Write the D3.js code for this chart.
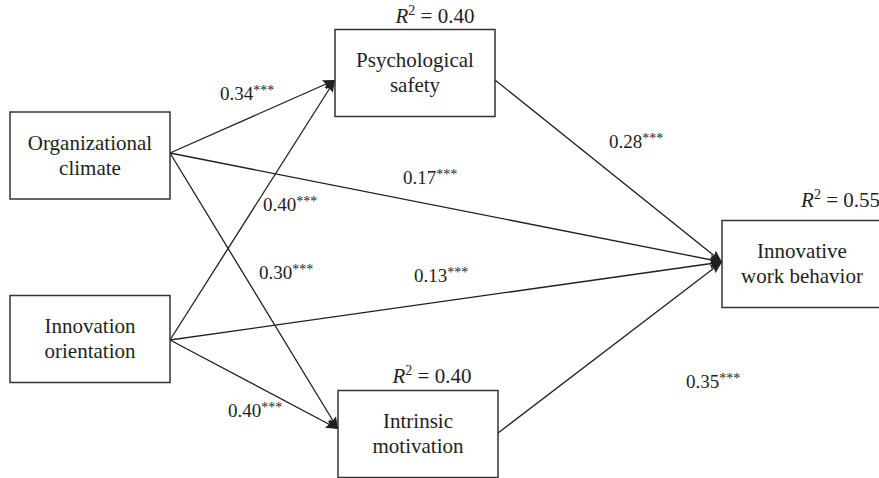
<!DOCTYPE html>
<html><head><meta charset="utf-8"><script src="https://cdn.jsdelivr.net/npm/d3@7"></script></head>
<body style="margin:0">
<svg id="chart" width="879" height="478" style="font-family:'Liberation Serif'"></svg>
<script>
// ---------- DATA ----------
const nodeIds = ["OC", "IO", "PS", "IM", "IWB"];
const nodeLines = [
  ["Organizational", "climate"],
  ["Innovation", "orientation"],
  ["Psychological", "safety"],
  ["Intrinsic", "motivation"],
  ["Innovative", "work behavior"]
];
const pathFrom = ["OC", "IO", "OC", "IO", "OC", "IO", "PS", "IM"];
const pathTo   = ["PS", "PS", "IM", "IM", "IWB", "IWB", "IWB", "IWB"];
const pathCoef = [0.34, 0.40, 0.30, 0.40, 0.17, 0.13, 0.28, 0.35];
const pathSig  = ["***", "***", "***", "***", "***", "***", "***", "***"];
const r2Nodes  = ["PS", "IM", "IWB"];
const r2Values = [0.40, 0.40, 0.55];

// ---------- LAYOUT (positions / sizes / styles) ----------
const boxW = 160, boxH = 87;
const colX = d3.scaleOrdinal().domain([0, 1, 2]).range([10, 336, 722]);
const layout = {
  OC:  { col: 0, cy: 155.5, outDy: -2.5, inDy: 0 },
  IO:  { col: 0, cy: 339,   outDy: 1,    inDy: 0 },
  PS:  { col: 1, cy: 73,    outDy: 7,    inDy: 7, dx: -1 },
  IM:  { col: 1, cy: 434,   outDy: -1,   inDy: -5, dx: 2 },
  IWB: { col: 2, cy: 264,   outDy: 0,    inDy: -2 }
};
const labelPos = [
  [220, 100], [263, 211], [259, 279], [228, 417],
  [403, 184], [414, 282], [609, 148], [686, 388]
];
const r2Pos = {
  PS:  { x: 435, y: 23, anchor: "middle" },
  IM:  { x: 432, y: 383, anchor: "middle" },
  IWB: { x: 880, y: 207, anchor: "end" }
};
const ink = "#231f20";
const FONT = "'Liberation Serif'";
const fontSize = 21;

// ---------- DRAW ----------
const svg = d3.select("#chart");

svg.append("defs").append("marker")
  .attr("id", "arrow")
  .attr("markerUnits", "userSpaceOnUse")
  .attr("viewBox", "0 0 12 10")
  .attr("refX", 12).attr("refY", 5)
  .attr("markerWidth", 12).attr("markerHeight", 10)
  .attr("orient", "auto")
  .append("path")
  .attr("d", "M0,0 L12,5 L0,10 L2,5 Z")
  .attr("fill", ink);

const nodes = nodeIds.map((id, i) => {
  const L = layout[id];
  const x = colX(L.col) + (L.dx || 0);
  return {
    id, lines: nodeLines[i],
    x, y: L.cy - boxH / 2, cx: x + boxW / 2, cy: L.cy,
    out: [x + boxW, L.cy + L.outDy],
    inp: [x, L.cy + L.inDy]
  };
});
const byId = Object.fromEntries(nodes.map(n => [n.id, n]));

const paths = pathFrom.map((f, i) => ({
  src: byId[f], tgt: byId[pathTo[i]],
  coef: pathCoef[i], sig: pathSig[i], pos: labelPos[i]
}));

svg.selectAll("line.edge").data(paths).join("line")
  .attr("class", "edge")
  .attr("x1", d => d.src.out[0]).attr("y1", d => d.src.out[1])
  .attr("x2", d => d.tgt.inp[0]).attr("y2", d => d.tgt.inp[1])
  .attr("stroke", ink).attr("stroke-width", 1.3)
  .attr("marker-end", "url(#arrow)");

svg.selectAll("rect.box").data(nodes).join("rect")
  .attr("class", "box")
  .attr("x", d => d.x).attr("y", d => d.y)
  .attr("width", boxW).attr("height", boxH)
  .attr("fill", "#fff").attr("stroke", "#333").attr("stroke-width", 1.5);

const boxLines = nodes.flatMap(d => d.lines.map((t, k) => ({ t, k, d })));
svg.selectAll("text.node").data(boxLines).join("text")
  .attr("class", "node")
  .attr("x", o => o.d.cx)
  .attr("y", o => o.d.cy - 6 + o.k * 25)
  .attr("font-size", fontSize)
  .attr("text-anchor", "middle")
  .attr("fill", ink)
  .style("font-family", FONT)
  .text(o => o.t);

const lab = svg.selectAll("text.coef").data(paths).join("text")
  .attr("class", "coef")
  .attr("x", d => d.pos[0]).attr("y", d => d.pos[1])
  .attr("font-size", 19)
  .attr("fill", ink)
  .style("font-family", FONT);
lab.append("tspan").style("font-family", FONT).text(d => d3.format(".2f")(d.coef));
lab.append("tspan").style("font-family", FONT).attr("dy", -5).attr("font-size", 14).text(d => d.sig);

const r2 = svg.selectAll("text.r2")
  .data(r2Nodes.map((id, i) => ({ id, v: r2Values[i], p: r2Pos[id] })))
  .join("text")
  .attr("class", "r2")
  .attr("x", d => d.p.x).attr("y", d => d.p.y)
  .attr("text-anchor", d => d.p.anchor)
  .attr("font-size", fontSize)
  .attr("fill", ink)
  .style("font-family", FONT);
r2.append("tspan").style("font-family", FONT).attr("font-style", "italic").text("R");
r2.append("tspan").style("font-family", FONT).attr("dy", -8).attr("font-size", 14).text("2");
r2.append("tspan").style("font-family", FONT).attr("dy", 8).text(d => " = " + d3.format(".2f")(d.v));
</script>
</body>
</html>
